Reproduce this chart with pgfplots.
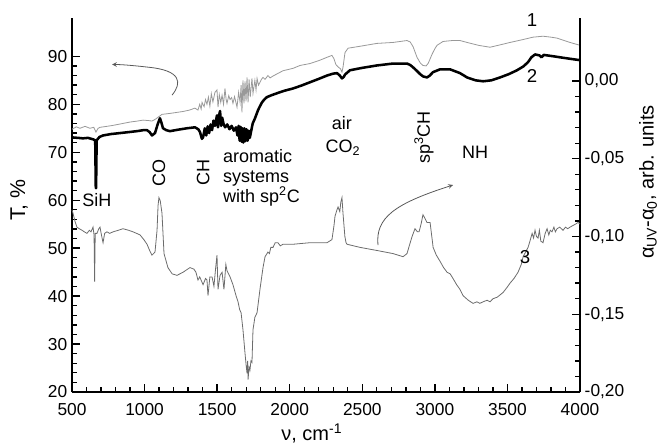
\documentclass[border=0pt]{standalone}
\usepackage{pgfplots}
\pgfplotsset{compat=1.18}
\usepackage{fontspec}
\setmainfont{Liberation Sans}
\begin{document}
\begin{tikzpicture}
\pgfplotsset{
  common/.style={
    scale only axis, width=381pt, height=280.5pt,
    xmin=500, xmax=4000,
    tick align=inside,
    major tick length=6pt, minor tick length=3.5pt,
    every tick/.style={black, line width=1pt},
    axis line style={line width=1.2pt},
    every outer x axis line/.append style={-},
    every outer y axis line/.append style={-},
    ticklabel style={font=\fontsize{13}{15}\selectfont},
    /pgf/number format/assume math mode=true,
    clip=false,
  }
}
\begin{axis}[common, name=main,
  axis x line*=bottom, axis y line*=left,
  ymin=20, ymax=98,
  ytick={20,30,40,50,60,70,80,90}, minor y tick num=4,
  xtick={500,1000,1500,2000,2500,3000,3500,4000}, minor x tick num=4,
  x tick label style={/pgf/number format/1000 sep={}},
  xticklabel style={yshift=-5pt},
]
\coordinate (bbsw) at (rel axis cs:-0.1417,-0.1417);
\coordinate (bbne) at (rel axis cs:1.1594,1.0481);
\node[font=\fontsize{15}{17}\selectfont] at (rel axis cs:0.472,-0.110) {ν, cm\textsuperscript{-1}};
\node[font=\fontsize{16}{18}\selectfont, rotate=90] at (rel axis cs:-0.104,0.513) {T, \%};
% curve 1
\addplot[gray!80, line width=0.6pt] coordinates {
(500,74.8) (530,75.3) (555,75.0) (590,75.4) (624,75.0) (650,75.2) (665,74.2) (680,75.0) (693,75.2) (740,75.4) (782,75.6)
(850,76.0) (900,76.3) (950,76.5) (989,76.7) (1030,76.6) (1051,76.5) (1075,76.9) (1093,77.3) (1120,77.9) (1175,78.1)
(1220,78.3) (1265,78.5) (1310,78.8) (1347,79.2) (1368,78.8) (1380,80.0) (1390,79.0) (1396,80.4) (1410,79.5) (1420,81.0)
(1430,80.0) (1440,81.5) (1450,79.6) (1460,82.2) (1471,80.5) (1485,82.5) (1499,83.0) (1506,79.4) (1515,82.0) (1525,80.4)
(1534,81.9) (1544,80.0) (1554,83.3) (1562,81.0) (1568,80.2) (1580,81.8) (1589,81.0) (1600,81.4) (1609,80.2) (1620,81.6)
(1637,79.4) (1648,82.5) (1658,80.4) (1665,84.0) (1671,78.3) (1678,85.0) (1685,80.2) (1692,84.8) (1699,80.6) (1706,85.6)
(1713,80.4) (1720,85.2) (1728,81.5) (1740,85.4) (1747,82.3) (1760,85.0) (1768,83.0) (1775,85.4) (1785,84.0) (1795,84.6)
(1805,85.2) (1816,85.6) (1830,85.2) (1850,86.0) (1865,85.5) (1885,85.9) (1910,86.3) (1954,87.0) (2023,87.5) (2071,88.1)
(2140,88.5) (2200,89.1) (2257,89.8) (2291,90.2) (2305,89.5) (2318,88.3) (2333,87.8) (2350,87.4) (2360,86.7) (2367,87.7)
(2381,90.8) (2402,91.7) (2484,92.1) (2601,92.7) (2712,92.9) (2808,93.3) (2830,93.0) (2850,92.0) (2877,89.8) (2900,88.6)
(2918,88.1) (2940,88.0) (2955,88.6) (2980,90.4) (3000,91.6) (3015,92.3) (3056,93.1) (3120,93.3) (3173,93.3) (3222,92.9)
(3300,92.3) (3380,91.9) (3450,92.4) (3518,92.9) (3607,93.5) (3676,94.0) (3745,94.2) (3800,94.0) (3842,93.8) (3931,92.9) (4000,92.3)
};
% curve 2
\addplot[black, line width=1.9pt, line join=round] coordinates {
(500,73.1) (540,73.0) (576,72.9) (610,73.0) (645,72.7) (660,72.5) (664,62.5) (666,62.5) (670,72.5) (690,73.2) (714,73.5)
(770,73.8) (831,74.0) (890,74.2) (948,74.4) (990,74.6) (1017,74.6) (1035,74.2) (1051,73.5) (1072,74.0) (1090,75.8) (1106,77.1)
(1116,76.2) (1127,75.0) (1150,74.6) (1175,74.4) (1230,74.7) (1292,75.0) (1347,75.2) (1370,74.8) (1382,74.2) (1395,72.8)
(1403,73.1) (1415,75.0) (1425,73.5) (1435,75.4) (1445,74.0) (1455,75.8) (1465,74.6) (1475,76.6) (1485,75.5) (1499,77.7)
(1506,75.2) (1512,77.4) (1520,78.6) (1528,75.5) (1535,77.2) (1545,75.8) (1555,75.2) (1570,75.8) (1585,74.8) (1600,75.5)
(1615,74.5) (1630,75.2) (1640,73.5) (1648,75.5) (1655,72.4) (1662,75.3) (1668,72.2) (1675,75.0) (1680,72.0) (1688,75.0)
(1695,72.3) (1702,74.8) (1710,72.4) (1718,74.5) (1725,73.0) (1735,74.5) (1745,76.0) (1761,77.1) (1782,78.8) (1795,79.6)
(1809,80.4) (1825,81.0) (1843,81.5) (1875,81.9) (1912,82.3) (1960,82.8) (2023,83.3) (2080,83.9) (2140,84.6) (2200,85.3)
(2257,86.0) (2300,86.4) (2326,86.5) (2345,86.0) (2360,85.4) (2372,85.7) (2381,86.2) (2415,87.1) (2500,87.6) (2601,88.1)
(2712,88.5) (2808,88.5) (2830,88.2) (2850,87.7) (2875,87.0) (2898,86.3) (2920,85.8) (2946,85.6) (2965,86.0) (2987,86.7)
(3036,87.3) (3104,87.3) (3173,86.5) (3222,85.6) (3280,85.0) (3332,84.8) (3390,85.0) (3449,85.6) (3510,86.3) (3566,87.1)
(3610,87.9) (3642,88.8) (3665,89.8) (3690,90.4) (3720,90.2) (3735,89.8) (3750,90.3) (3773,90.2) (3820,90.0) (3862,89.8) (3930,89.5) (4000,89.2)
};
% annotations
\node[font=\fontsize{13.5}{15}\selectfont] at (axis cs:672,60) {SiH};
\node[font=\fontsize{13.5}{15}\selectfont, rotate=90] at (axis cs:1099,65.6) {CO};
\node[font=\fontsize{13.5}{15}\selectfont, rotate=90] at (axis cs:1403,65.8) {CH};
\node[font=\fontsize{13.5}{15}\selectfont, anchor=west, align=left, inner sep=0pt] at (axis cs:1540,64.6) {aromatic\\systems\\with sp\textsuperscript{2}C};
\node[font=\fontsize{13.5}{15}\selectfont] at (axis cs:2360,76.0) {air};
\node[font=\fontsize{13.5}{15}\selectfont] at (axis cs:2367,71.0) {CO\textsubscript{2}};
\node[font=\fontsize{13.5}{15}\selectfont, rotate=90] at (axis cs:2925,73.1) {sp\textsuperscript{3}CH};
\node[font=\fontsize{13.5}{15}\selectfont] at (axis cs:3277,70.0) {NH};
\node[font=\fontsize{14}{16}\selectfont] at (axis cs:3669,97.6) {1};
\node[font=\fontsize{14}{16}\selectfont] at (axis cs:3669,86.0) {2};
\draw[gray!70!black, line width=0.6pt, -stealth] (axis cs:1189,81.9) .. controls (axis cs:1260,84.5) and (axis cs:1250,87.0) .. (axis cs:1037,87.7) .. controls (axis cs:950,88.0) and (axis cs:850,88.3) .. (axis cs:776,88.3);
\end{axis}
\begin{axis}[common,
  axis x line=none, axis y line*=right,
  ymin=-0.2, ymax=0.0405,
  ytick={-0.20,-0.15,-0.10,-0.05,0}, minor y tick num=4,
  yticklabel style={/pgf/number format/.cd, fixed, fixed zerofill, precision=2, use comma},
]
\node[font=\fontsize{15}{17}\selectfont, rotate=90] at (rel axis cs:1.134,0.561) {α\textsubscript{UV}-α\textsubscript{0}, arb. units};
% curve 3
\addplot[gray!85!black, line width=0.6pt] coordinates {
(500,-0.083) (507,-0.085) (520,-0.090) (534,-0.094) (550,-0.095) (569,-0.096) (585,-0.097) (603,-0.098) (620,-0.096) (631,-0.097)
(645,-0.094) (652,-0.099) (656,-0.129) (660,-0.098) (672,-0.098) (685,-0.095) (693,-0.094) (703,-0.099) (714,-0.104) (725,-0.098)
(741,-0.097) (760,-0.098) (783,-0.097) (820,-0.096) (851,-0.095) (890,-0.096) (920,-0.097) (945,-0.098) (969,-0.099) (995,-0.102)
(1017,-0.105) (1035,-0.109) (1051,-0.112) (1072,-0.110) (1086,-0.096) (1093,-0.080) (1099,-0.075) (1108,-0.077) (1120,-0.085)
(1134,-0.111) (1161,-0.120) (1190,-0.124) (1223,-0.125) (1265,-0.123) (1313,-0.120) (1340,-0.121) (1354,-0.123) (1368,-0.128)
(1380,-0.126) (1403,-0.131) (1420,-0.127) (1430,-0.128) (1437,-0.138) (1450,-0.126) (1465,-0.126) (1478,-0.132) (1490,-0.120)
(1499,-0.112) (1506,-0.134) (1520,-0.125) (1534,-0.123) (1547,-0.134) (1560,-0.118) (1568,-0.122) (1589,-0.126) (1609,-0.131)
(1630,-0.138) (1644,-0.142) (1655,-0.147) (1665,-0.149) (1678,-0.160) (1692,-0.175) (1700,-0.183) (1706,-0.188) (1710,-0.180)
(1713,-0.192) (1720,-0.184) (1726,-0.186) (1733,-0.180) (1740,-0.181) (1747,-0.160) (1760,-0.152) (1775,-0.149) (1795,-0.134)
(1816,-0.120) (1830,-0.113) (1850,-0.110) (1860,-0.111) (1870,-0.107) (1885,-0.107) (1900,-0.104) (1919,-0.104) (1935,-0.106)
(1954,-0.105) (2023,-0.105) (2080,-0.1045) (2140,-0.104) (2200,-0.104) (2257,-0.104) (2291,-0.102) (2305,-0.093) (2312,-0.087)
(2325,-0.083) (2333,-0.081) (2345,-0.084) (2352,-0.078) (2360,-0.075) (2367,-0.085) (2380,-0.100) (2388,-0.104) (2395,-0.105)
(2484,-0.107) (2601,-0.109) (2712,-0.111) (2781,-0.113) (2808,-0.111) (2830,-0.104) (2843,-0.100) (2863,-0.095) (2880,-0.097)
(2891,-0.097) (2905,-0.092) (2918,-0.086) (2930,-0.088) (2946,-0.091) (2967,-0.091) (2988,-0.107) (3010,-0.112) (3036,-0.116)
(3060,-0.120) (3084,-0.123) (3105,-0.124) (3125,-0.127) (3150,-0.131) (3173,-0.134) (3194,-0.138) (3230,-0.141) (3263,-0.143)
(3290,-0.142) (3310,-0.143) (3332,-0.142) (3360,-0.141) (3380,-0.142) (3401,-0.140) (3430,-0.139) (3470,-0.136) (3495,-0.133)
(3518,-0.130) (3545,-0.127) (3573,-0.123) (3595,-0.118) (3608,-0.113) (3625,-0.110) (3642,-0.107) (3655,-0.103) (3670,-0.098)
(3680,-0.101) (3690,-0.096) (3700,-0.100) (3711,-0.101) (3720,-0.096) (3730,-0.103) (3745,-0.104) (3760,-0.098) (3773,-0.095)
(3785,-0.099) (3795,-0.096) (3807,-0.097) (3820,-0.094) (3830,-0.097) (3842,-0.095) (3860,-0.094) (3883,-0.096) (3900,-0.094)
(3915,-0.095) (3931,-0.094) (3950,-0.093) (3970,-0.092) (3986,-0.091) (4000,-0.092)
};
\node[font=\fontsize{14}{16}\selectfont] at (axis cs:3621,-0.1135) {3};
\draw[gray!70!black, line width=0.6pt, -stealth] (axis cs:2608,-0.1055) .. controls (axis cs:2590,-0.088) and (axis cs:2720,-0.079) .. (axis cs:3125,-0.0669);
\end{axis}
\pgfresetboundingbox
\path (bbsw) rectangle (bbne);
\end{tikzpicture}
\end{document}
